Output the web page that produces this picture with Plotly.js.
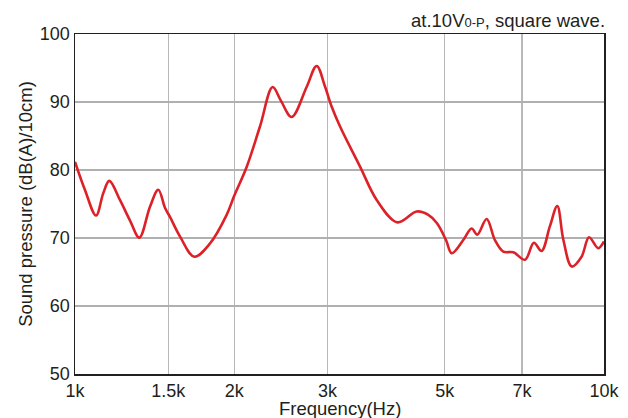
<!DOCTYPE html>
<html>
<head>
<meta charset="utf-8">
<script src="https://cdn.plot.ly/plotly-3.0.1.min.js"></script>
<style>html,body{margin:0;padding:0;background:#fff;}#chart{width:628px;height:418px;}</style>
</head>
<body>
<div id="chart"></div>
<script>
const freqHz = [1000, 1044, 1096, 1131, 1161, 1216, 1270, 1323, 1386, 1437, 1480, 1512, 1580, 1681, 1800, 1935, 2000, 2110, 2237, 2364, 2450, 2568, 2742, 2863, 2970, 3057, 3170, 3458, 3718, 4068, 4425, 4655, 4830, 5027, 5154, 5420, 5620, 5760, 6000, 6220, 6450, 6740, 7090, 7370, 7620, 7900, 8160, 8380, 8690, 9070, 9370, 9750, 10000];
const splDb  = [81.2, 77.1, 73.3, 76.6, 78.4, 75.6, 72.6, 70.05, 74.6, 77.1, 74.4, 73.1, 70.2, 67.25, 69.2, 73.4, 76.2, 80.4, 86.4, 92.2, 90.2, 87.8, 92.25, 95.3, 92.25, 89.3, 86.4, 80.5, 75.6, 72.3, 73.9, 73.4, 72.2, 69.7, 67.75, 69.7, 71.4, 70.5, 72.8, 69.7, 68.0, 67.9, 66.8, 69.3, 68.1, 71.7, 74.7, 69.7, 65.8, 67.25, 70.1, 68.5, 69.5];
const xTickVals = [1000, 1500, 2000, 3000, 5000, 7000, 10000];
const xTickText = ["1k", "1.5k", "2k", "3k", "5k", "7k", "10k"];
const yTickVals = [50, 60, 70, 80, 90, 100];
const xTitle = "Frequency(Hz)";
const yTitle = "Sound pressure (dB(A)/10cm)";
const noteText = "at.10V<span style=\"font-size:13px\">0-P</span>, square wave.";

const font = {family: "Liberation Sans, Arial, Helvetica, sans-serif", color: "#231f20"};

Plotly.newPlot("chart", [{
  x: freqHz, y: splDb, type: "scatter", mode: "lines",
  line: {color: "#dc2228", width: 2.6, shape: "spline", smoothing: 1},
  hoverinfo: "none"
}], {
  width: 628, height: 418,
  margin: {l: 75, r: 24, t: 34, b: 44},
  paper_bgcolor: "#fff", plot_bgcolor: "#fff",
  showlegend: false,
  font: Object.assign({size: 18}, font),
  xaxis: {
    type: "log", range: [3, 4],
    tickvals: xTickVals, ticktext: xTickText, ticks: "",
    showgrid: true, gridcolor: "#b8b8b8", gridwidth: 1.3,
    showline: true, linecolor: "#231f20", linewidth: 1.5, mirror: true,
    tickfont: Object.assign({size: 18}, font),
    zeroline: false, fixedrange: true
  },
  yaxis: {
    range: [50, 100], tickvals: yTickVals, ticks: "",
    showgrid: true, gridcolor: "#b0b0b0", gridwidth: 1.2,
    showline: true, linecolor: "#231f20", linewidth: 1.5, mirror: true,
    tickfont: Object.assign({size: 18}, font),
    title: {text: yTitle, font: Object.assign({size: 18.5}, font), standoff: 2},
    zeroline: false, fixedrange: true
  },
  annotations: [{
    xref: "paper", yref: "paper", x: 1, y: 1, xanchor: "right", yanchor: "bottom", yshift: 1, xshift: 3,
    text: noteText,
    showarrow: false, font: Object.assign({size: 18.5}, font)
  }, {
    xref: "paper", yref: "paper", x: 0.5, y: 0, xanchor: "center", yanchor: "top", yshift: -22,
    text: xTitle, showarrow: false, font: Object.assign({size: 18.5}, font)
  }]
}, {displayModeBar: false, staticPlot: true});
</script>
</body>
</html>
